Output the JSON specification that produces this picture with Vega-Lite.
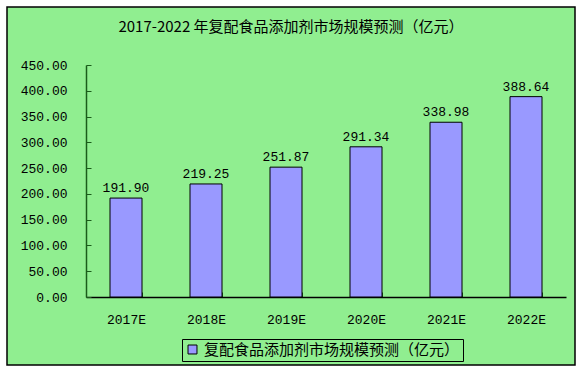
{
  "$schema": "https://vega.github.io/schema/vega-lite/v6.json",
  "width": 568,
  "height": 358,
  "padding": {"left": 7, "top": 7, "right": 7, "bottom": 6},
  "autosize": {"type": "none"},
  "background": "#ffffff",
  "config": {
    "view": {"fill": "#90EE90", "stroke": "#000000", "strokeWidth": 1.5},
    "font": "Liberation Mono"
  },
  "title": {
    "text": "2017-2022 年复配食品添加剂市场规模预测（亿元）",
    "font": "Noto Sans CJK SC",
    "fontSize": 15,
    "fontWeight": "normal",
    "color": "#000000",
    "anchor": "middle",
    "frame": "group",
    "offset": -28
  },
  "data": {
    "values": [
      {"year": "2017E", "value": 191.90, "label": "191.90"},
      {"year": "2018E", "value": 219.25, "label": "219.25"},
      {"year": "2019E", "value": 251.87, "label": "251.87"},
      {"year": "2020E", "value": 291.34, "label": "291.34"},
      {"year": "2021E", "value": 338.98, "label": "338.98"},
      {"year": "2022E", "value": 388.64, "label": "388.64"}
    ]
  },
  "encoding": {
    "x": {
      "field": "year",
      "type": "nominal",
      "sort": null,
      "scale": {"range": [79, 559], "paddingInner": 0.6, "paddingOuter": 0.3},
      "axis": {
        "title": null,
        "offset": -68,
        "labelAngle": 0,
        "labelFont": "Liberation Mono",
        "labelFontSize": 13,
        "labelColor": "#000000",
        "labelPadding": 21,
        "domainColor": "#000000",
        "domainWidth": 1.5,
        "tickColor": "#1a5c1a",
        "tickSize": -5,
        "tickBand": "extent",
        "grid": false
      }
    },
    "y": {
      "field": "value",
      "type": "quantitative",
      "scale": {"domain": [0, 450], "range": [290, 58], "nice": false},
      "axis": {
        "title": null,
        "offset": -79,
        "values": [0, 50, 100, 150, 200, 250, 300, 350, 400, 450],
        "format": ".2f",
        "labelFont": "Liberation Mono",
        "labelFontSize": 13,
        "labelColor": "#000000",
        "labelPadding": 24,
        "domainColor": "#1a5c1a",
        "domainWidth": 1.5,
        "tickColor": "#1a5c1a",
        "tickSize": -5,
        "grid": false
      }
    }
  },
  "layer": [
    {
      "mark": {"type": "bar", "stroke": "#000000", "strokeWidth": 1},
      "encoding": {
        "color": {
          "datum": "复配食品添加剂市场规模预测（亿元）",
          "scale": {"range": ["#9999FF"]},
          "legend": {
            "title": null,
            "orient": "none",
            "legendX": 175,
            "legendY": 332,
            "direction": "horizontal",
            "strokeColor": "#000000",
            "padding": 3,
            "symbolType": "square",
            "symbolSize": 80,
            "symbolStrokeColor": "#000000",
            "symbolStrokeWidth": 1,
            "labelFont": "Noto Sans CJK SC",
            "labelFontSize": 15,
            "labelColor": "#000000",
            "labelLimit": 400
          }
        }
      }
    },
    {
      "mark": {"type": "text", "baseline": "bottom", "dy": -3, "font": "Liberation Mono", "fontSize": 13, "color": "#000000"},
      "encoding": {"text": {"field": "label"}}
    }
  ]
}
